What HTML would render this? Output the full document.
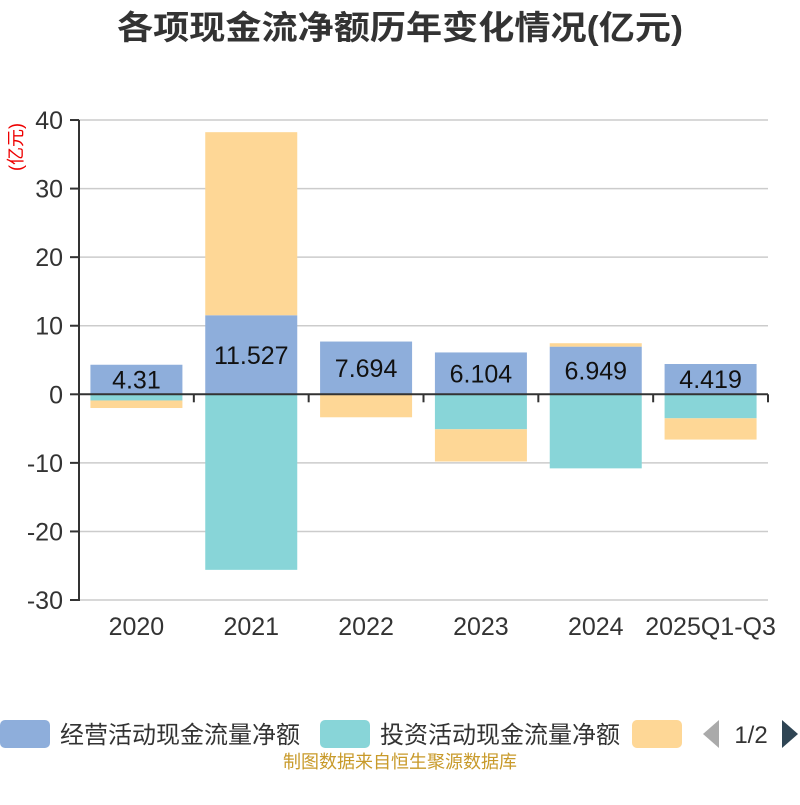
<!DOCTYPE html>
<html><head><meta charset="utf-8"><style>
body{margin:0;background:#fff;width:800px;height:800px;overflow:hidden}
svg text{font-family:"Liberation Sans","Noto Sans CJK SC",sans-serif}
</style></head><body>
<svg id="c" width="800" height="800">
<text x="400" y="39" text-anchor="middle" font-size="33" font-weight="bold" fill="#333" textLength="566" lengthAdjust="spacingAndGlyphs">各项现金流净额历年变化情况(亿元)</text>
<text transform="translate(22,147) rotate(-90)" text-anchor="middle" font-size="18" fill="#e00">(亿元)</text>
<g id="grid"></g><g id="bars"></g><g id="axes"></g>
<g>
<rect x="0" y="720" width="50" height="28" rx="5" fill="#8eaedb"/>
<text x="60" y="743" font-size="24" fill="#333" textLength="240" lengthAdjust="spacingAndGlyphs">经营活动现金流量净额</text>
<rect x="320" y="720" width="50" height="28" rx="5" fill="#88d5d8"/>
<text x="380" y="743" font-size="24" fill="#333" textLength="240" lengthAdjust="spacingAndGlyphs">投资活动现金流量净额</text>
<rect x="632" y="720" width="50" height="28" rx="5" fill="#fed796"/>
<polygon points="719,720 719,748 703,734" fill="#aaa"/>
<text x="751" y="743" font-size="24" fill="#333" text-anchor="middle">1/2</text>
<polygon points="782,720 782,748 798,734" fill="#2f4554"/>
</g>
<text x="400" y="768" text-anchor="middle" font-size="18" fill="#c89a2a" textLength="234" lengthAdjust="spacingAndGlyphs">制图数据来自恒生聚源数据库</text>
</svg>
<script>
const categories=["2020","2021","2022","2023","2024","2025Q1-Q3"];
const operating=[4.31,11.527,7.694,6.104,6.949,4.419];
const investing=[-0.9,-25.6,-0.05,-5.1,-10.8,-3.5];
const financing=[-1.1,26.7,-3.3,-4.7,0.5,-3.1];
const yTicks=[40,30,20,10,0,-10,-20,-30];
const NS="http://www.w3.org/2000/svg";
const x0=79,x1=768,y=v=>394.3-v*6.857,bw=(x1-x0)/categories.length;
function mk(t,a,p){const e=document.createElementNS(NS,t);for(const k in a)e.setAttribute(k,a[k]);document.getElementById(p).appendChild(e);return e;}
yTicks.forEach(v=>{
 const g=mk("line",{x1:x0,x2:x1,y1:y(v),y2:y(v),stroke:"#ccc","stroke-width":1.5},"grid");
 
 
 const t=mk("line",{x1:70,x2:x0,y1:y(v),y2:y(v),stroke:"#333","stroke-width":2},"axes");
 
 
 const l=mk("text",{x:63,y:y(v)+9,"text-anchor":"end","font-size":25,fill:"#333"},"axes");
 l.textContent=v;
 
 
});
const ya=mk("line",{x1:x0,x2:x0,y1:y(40),y2:y(-30)+1,stroke:"#333","stroke-width":2},"axes");


const xa=mk("line",{x1:x0,x2:x1,y1:y(0),y2:y(0),stroke:"#333","stroke-width":2},"axes");


for(let i=0;i<=categories.length;i++){
 const t=mk("line",{x1:x0+i*bw,x2:x0+i*bw,y1:y(0),y2:y(0)+8,stroke:"#333","stroke-width":2},"axes");
 
 
}
const series=[[operating,"#8eaedb","operating"],[investing,"#88d5d8","investing"],[financing,"#fed796","financing"]];
categories.forEach((c,i)=>{
 const cx=x0+bw*(i+0.5);let pos=0,neg=0;
 series.forEach(([arr,col,n])=>{
  const v=arr[i];let a,b;
  if(v>=0){a=pos;b=pos+v;pos=b;}else{a=neg;b=neg+v;neg=b;}
  const r=mk("rect",{x:cx-46,width:92,y:Math.min(y(a),y(b)),height:Math.abs(y(a)-y(b)),fill:col},"bars");
  
  
 });
 const lb=mk("text",{x:cx,y:y(operating[i]/2)+9,"text-anchor":"middle","font-size":25,fill:"#111"},"bars");
 lb.textContent=operating[i];
 
 
 const xl=mk("text",{x:cx,y:635,"text-anchor":"middle","font-size":25,fill:"#333"},"axes");
 xl.textContent=c;
 
 
});
</script>
</body></html>
